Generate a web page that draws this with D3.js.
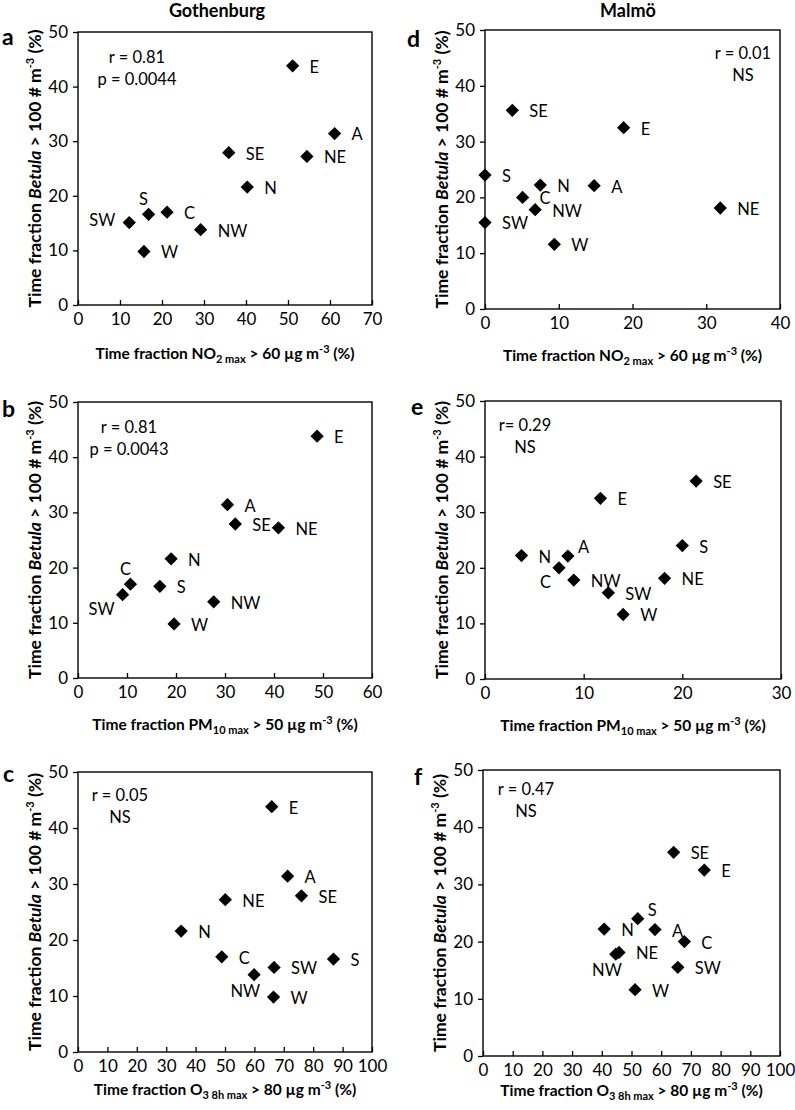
<!DOCTYPE html>
<html><head><meta charset="utf-8">
<script src="https://cdn.jsdelivr.net/npm/d3@7/dist/d3.min.js"></script>
<style>
html,body{margin:0;padding:0;background:#fff;}
svg{display:block;font-family:Lato,"Open Sans",sans-serif;}
</style></head>
<body>
<svg id="chart" width="795" height="1110"></svg>
<script>
// ---------- data ----------
const sites = ["E","A","SE","NE","N","C","S","SW","NW","W"];

const gotBetula = [43.8, 31.4, 27.9, 27.2, 21.6, 17.0, 16.6, 15.1, 13.8, 9.8];
const gotNO2    = [51.1, 61.1, 35.9, 54.5, 40.3, 21.2, 16.8, 12.2, 29.2, 15.7];
const gotPM10   = [48.8, 30.5, 32.1, 40.9, 19.0, 10.7, 16.7,  9.1, 27.7, 19.6];
const gotO3     = [65.9, 71.3, 76.0, 50.1, 35.1, 48.9, 86.9, 66.7, 59.9, 66.5];

const malBetula = [32.5, 22.1, 35.6, 18.1, 22.2, 20.0, 24.0, 15.5, 17.8, 11.6];
const malNO2    = [18.8, 14.8,  3.7, 31.9,  7.5,  5.1,  0.0,  0.0,  6.8,  9.4];
const malPM10   = [11.7,  8.4, 21.4, 18.2,  3.7,  7.5, 20.0, 12.5,  9.0, 14.0];
const malO3     = [74.5, 57.9, 64.2, 45.8, 40.8, 67.8, 52.1, 65.6, 44.7, 51.2];

const yTicks    = [0, 10, 20, 30, 40, 50];
const ticksNO2G = [0, 10, 20, 30, 40, 50, 60, 70];
const ticksNO2M = [0, 10, 20, 30, 40];
const ticksPMG  = [0, 10, 20, 30, 40, 50, 60];
const ticksPMM  = [0, 10, 20, 30];
const ticksO3   = [0, 10, 20, 30, 40, 50, 60, 70, 80, 90, 100];

const cityTitles = ["Gothenburg", "Malmö"];
const annotA = ["r = 0.81", "p = 0.0044"];
const annotB = ["r = 0.81", "p = 0.0043"];
const annotC = ["r = 0.05", "NS"];
const annotD = ["r = 0.01", "NS"];
const annotE = ["r= 0.29", "NS"];
const annotF = ["r = 0.47", "NS"];

// label placement codes per site (same order as sites)
const placeA = ["r","r","r","r","r","r","t","l","r","r"];
const placeB = ["r","r","r","r","r","t","r","bl","r","r"];
const placeC = ["r","r","r","r","r","r","r","r","bw","r"];
const placeD = ["r","r","r","r","r","r","r","r","r","r"];
const placeE = ["r","tr","r","r","r","bl","r","r","r","r"];
const placeF = ["r","r","r","r","r","r","tr","r","bw","r"];

// ---------- layout / styles ----------
const placeOffsets = {
  r:  {dx: 17, dy: 1, anchor: "start"},
  t:  {dx: -5, dy: -15, anchor: "middle"},
  l:  {dx: -14, dy: -2, anchor: "end"},
  bl: {dx: -8, dy: 14, anchor: "end"},
  bw: {dx: 6, dy: 16, anchor: "end"},
  tr: {dx: 10, dy: -9, anchor: "start"}
};

const xLabelNO2 = [["Time fraction NO",0],["2 max",1],[" > 60 µg m",0],["-3",2],[" (%)",0]];
const xLabelPM  = [["Time fraction PM",0],["10 max",1],[" > 50 µg m",0],["-3",2],[" (%)",0]];
const xLabelO3  = [["Time fraction O",0],["3 8h max",1],[" > 80 µg m",0],["-3",2],[" (%)",0]];

const panels = [
  {letter:"a", lpos:[2,45],   x:gotNO2,  y:gotBetula, xmax:70,  xt:ticksNO2G, box:[78,372,32,305],   place:placeA, annot:annotA, ac:[137,57],  xl:xLabelNO2, xly:359},
  {letter:"b", lpos:[2,417],  x:gotPM10, y:gotBetula, xmax:60,  xt:ticksPMG,  box:[78,372,402,678],  place:placeB, annot:annotB, ac:[129,427], xl:xLabelPM,  xly:730},
  {letter:"c", lpos:[3,782],  x:gotO3,   y:gotBetula, xmax:100, xt:ticksO3,   box:[78,372,772,1052], place:placeC, annot:annotC, ac:[120,795], xl:xLabelO3,  xly:1095},
  {letter:"d", lpos:[407,47], x:malNO2,  y:malBetula, xmax:40,  xt:ticksNO2M, box:[485,780,30,309],  place:placeD, annot:annotD, ac:[743,53],  xl:xLabelNO2, xly:361},
  {letter:"e", lpos:[411,415],x:malPM10, y:malBetula, xmax:30,  xt:ticksPMM,  box:[485,781,401,679], place:placeE, annot:annotE, ac:[525,425], xl:xLabelPM,  xly:731},
  {letter:"f", lpos:[414,785],x:malO3,   y:malBetula, xmax:100, xt:ticksO3,   box:[483,780,770,1056],place:placeF, annot:annotF, ac:[526,789], xl:xLabelO3,  xly:1096}
];

const svg = d3.select("#chart");
const TFS = 17, LFS = 16.5, AFS = 16.5;

// city titles
svg.append("text").attr("x",217).attr("y",17).attr("text-anchor","middle")
  .attr("font-weight","bold").attr("font-size",18).text(cityTitles[0]);
svg.append("text").attr("x",628).attr("y",17).attr("text-anchor","middle")
  .attr("font-weight","bold").attr("font-size",18).text(cityTitles[1]);

const diamond = d3.symbol(d3.symbolSquare, 88);

panels.forEach(p => {
  const [L,R,T,B] = p.box;
  const g = svg.append("g");
  const xs = d3.scaleLinear().domain([0,p.xmax]).range([L,R]);
  const ys = d3.scaleLinear().domain([0,50]).range([B,T]);

  // x axis (ticks pointing inward)
  const xa = g.append("g").attr("transform",`translate(0,${B})`)
    .call(d3.axisBottom(xs).tickValues(p.xt).tickSizeInner(-5).tickSizeOuter(0).tickPadding(8).tickFormat(d3.format("d")));
  xa.select(".domain").remove();
  xa.selectAll("line").attr("stroke","#000").attr("stroke-width",1.3);
  xa.selectAll("text").attr("font-size",TFS).attr("fill","#000").attr("font-family","Lato");

  const ya = g.append("g").attr("transform",`translate(${L},0)`)
    .call(d3.axisLeft(ys).tickValues(yTicks).tickSizeInner(5).tickSizeOuter(0).tickPadding(5));
  ya.select(".domain").remove();
  ya.selectAll("line").attr("stroke","#000").attr("stroke-width",1.3);
  ya.selectAll("text").attr("font-size",TFS).attr("fill","#000").attr("font-family","Lato");

  // frame
  g.append("rect").attr("x",L).attr("y",T).attr("width",R-L).attr("height",B-T)
    .attr("fill","none").attr("stroke","#000").attr("stroke-width",1.4);

  // points
  const pts = sites.map((s,i)=>({s, x:p.x[i], y:p.y[i], pl:p.place[i]}));
  g.selectAll("path.pt").data(pts).enter().append("path").attr("class","pt")
    .attr("d",diamond)
    .attr("transform",d=>`translate(${xs(d.x)},${ys(d.y)}) rotate(45)`)
    .attr("fill","#000");

  g.selectAll("text.lab").data(pts).enter().append("text").attr("class","lab")
    .attr("x",d=>xs(d.x)+placeOffsets[d.pl].dx)
    .attr("y",d=>ys(d.y)+placeOffsets[d.pl].dy)
    .attr("dy","0.36em")
    .attr("text-anchor",d=>placeOffsets[d.pl].anchor)
    .attr("font-size",LFS).text(d=>d.s);

  // annotation
  p.annot.forEach((t,i)=>{
    g.append("text").attr("x",p.ac[0]).attr("y",p.ac[1]+i*22).attr("dy","0.36em")
      .attr("text-anchor","middle").attr("font-size",AFS).text(t);
  });

  // panel letter
  g.append("text").attr("x",p.lpos[0]).attr("y",p.lpos[1]).attr("font-weight","bold")
    .attr("font-size",23).text(p.letter);

  // x label
  const xl = g.append("text").attr("x",(L+R)/2).attr("y",p.xly).attr("text-anchor","middle")
    .attr("font-weight","bold").attr("font-size",15.5);
  let shift = 0;
  p.xl.forEach(([t,k])=>{
    const ts = xl.append("tspan").text(t);
    const target = k===1 ? 3.5 : (k===2 ? -6 : 0);
    ts.attr("dy", target-shift); shift = target;
    if(k>0) ts.attr("font-size",11);
  });

  // y label
  const cy = (T+B)/2, cx = L-43;
  const yl = g.append("text").attr("transform",`translate(${cx},${cy}) rotate(-90)`)
    .attr("text-anchor","middle").attr("dy","0.35em").attr("font-weight","bold").attr("font-size",17.5);
  yl.append("tspan").text("Time fraction ");
  yl.append("tspan").attr("font-style","italic").text("Betula");
  yl.append("tspan").text(" > 100 # m");
  yl.append("tspan").attr("font-size",11).attr("dy",-7).text("-3");
  yl.append("tspan").attr("dy",7).text(" (%)");
});
</script>
</body></html>
